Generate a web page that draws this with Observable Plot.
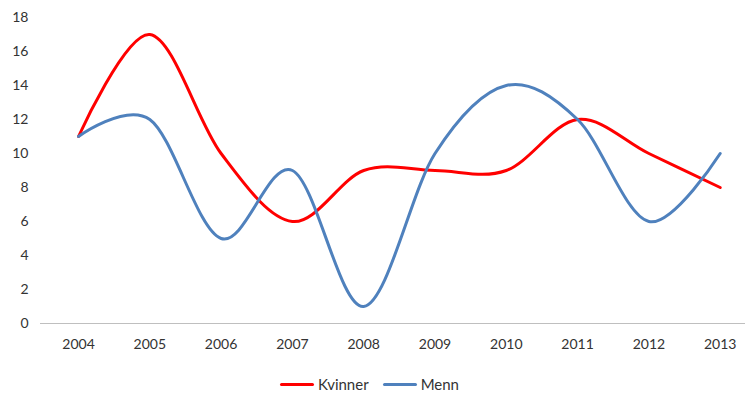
<!DOCTYPE html>
<html>
<head>
<meta charset="utf-8">
<script src="https://cdn.jsdelivr.net/npm/d3@7"></script>
<script src="https://cdn.jsdelivr.net/npm/@observablehq/plot@0.6"></script>
<style>
  html, body { margin: 0; padding: 0; background: #fff; }
  body { width: 745px; height: 397px; overflow: hidden; font-family: Lato, "Open Sans", sans-serif; }
  #legend { display: flex; justify-content: center; align-items: center; margin-top: 14px; height: 20px; font-size: 15px; color: #333; padding-right: 6px; }
  .item { display: flex; align-items: center; margin: 0 7px; }
  .sw { width: 34px; height: 3px; margin-right: 4px; border-radius: 2px; }
</style>
</head>
<body>
<div id="chart"></div>
<div id="legend"></div>
<script>
const years = [2004, 2005, 2006, 2007, 2008, 2009, 2010, 2011, 2012, 2013];
const kvinner = [11, 17, 10, 6, 9, 9, 9, 12, 10, 8];
const menn = [11, 12, 5, 9, 1, 10, 14, 12, 6, 10];
const yTicks = [0, 2, 4, 6, 8, 10, 12, 14, 16, 18];
const seriesNames = ["Kvinner", "Menn"];
const colors = ["#FF0000", "#4F81BD"];

const data = [];
years.forEach((y, i) => {
  data.push({year: y, value: kvinner[i], serie: seriesNames[0]});
  data.push({year: y, value: menn[i], serie: seriesNames[1]});
});

const plot = Plot.plot({
  width: 745,
  height: 360,
  marginLeft: 40,
  marginRight: 0,
  marginTop: 17,
  marginBottom: 37,
  style: {fontFamily: "Lato, 'Open Sans', sans-serif", fontSize: "14px", color: "#333", background: "#fff"},
  x: {type: "linear", domain: [2003.467, 2013.355], ticks: years, tickFormat: d => String(d), tickSize: 0, tickPadding: 16, label: null},
  y: {domain: [0, 18], ticks: yTicks, tickSize: 0, tickPadding: 12, label: null},
  color: {domain: seriesNames, range: colors},
  marks: [
    Plot.ruleY([0], {stroke: "#BFBFBF", strokeWidth: 1.2}),
    Plot.line(data, {x: "year", y: "value", z: "serie", stroke: "serie", strokeWidth: 3, curve: "cardinal"})
  ]
});
document.getElementById("chart").appendChild(plot);

const legend = document.getElementById("legend");
seriesNames.forEach((n, i) => {
  const it = document.createElement("div");
  it.className = "item";
  const sw = document.createElement("span");
  sw.className = "sw";
  sw.style.background = colors[i];
  const t = document.createElement("span");
  t.textContent = n;
  it.appendChild(sw); it.appendChild(t);
  legend.appendChild(it);
});
</script>
</body>
</html>
